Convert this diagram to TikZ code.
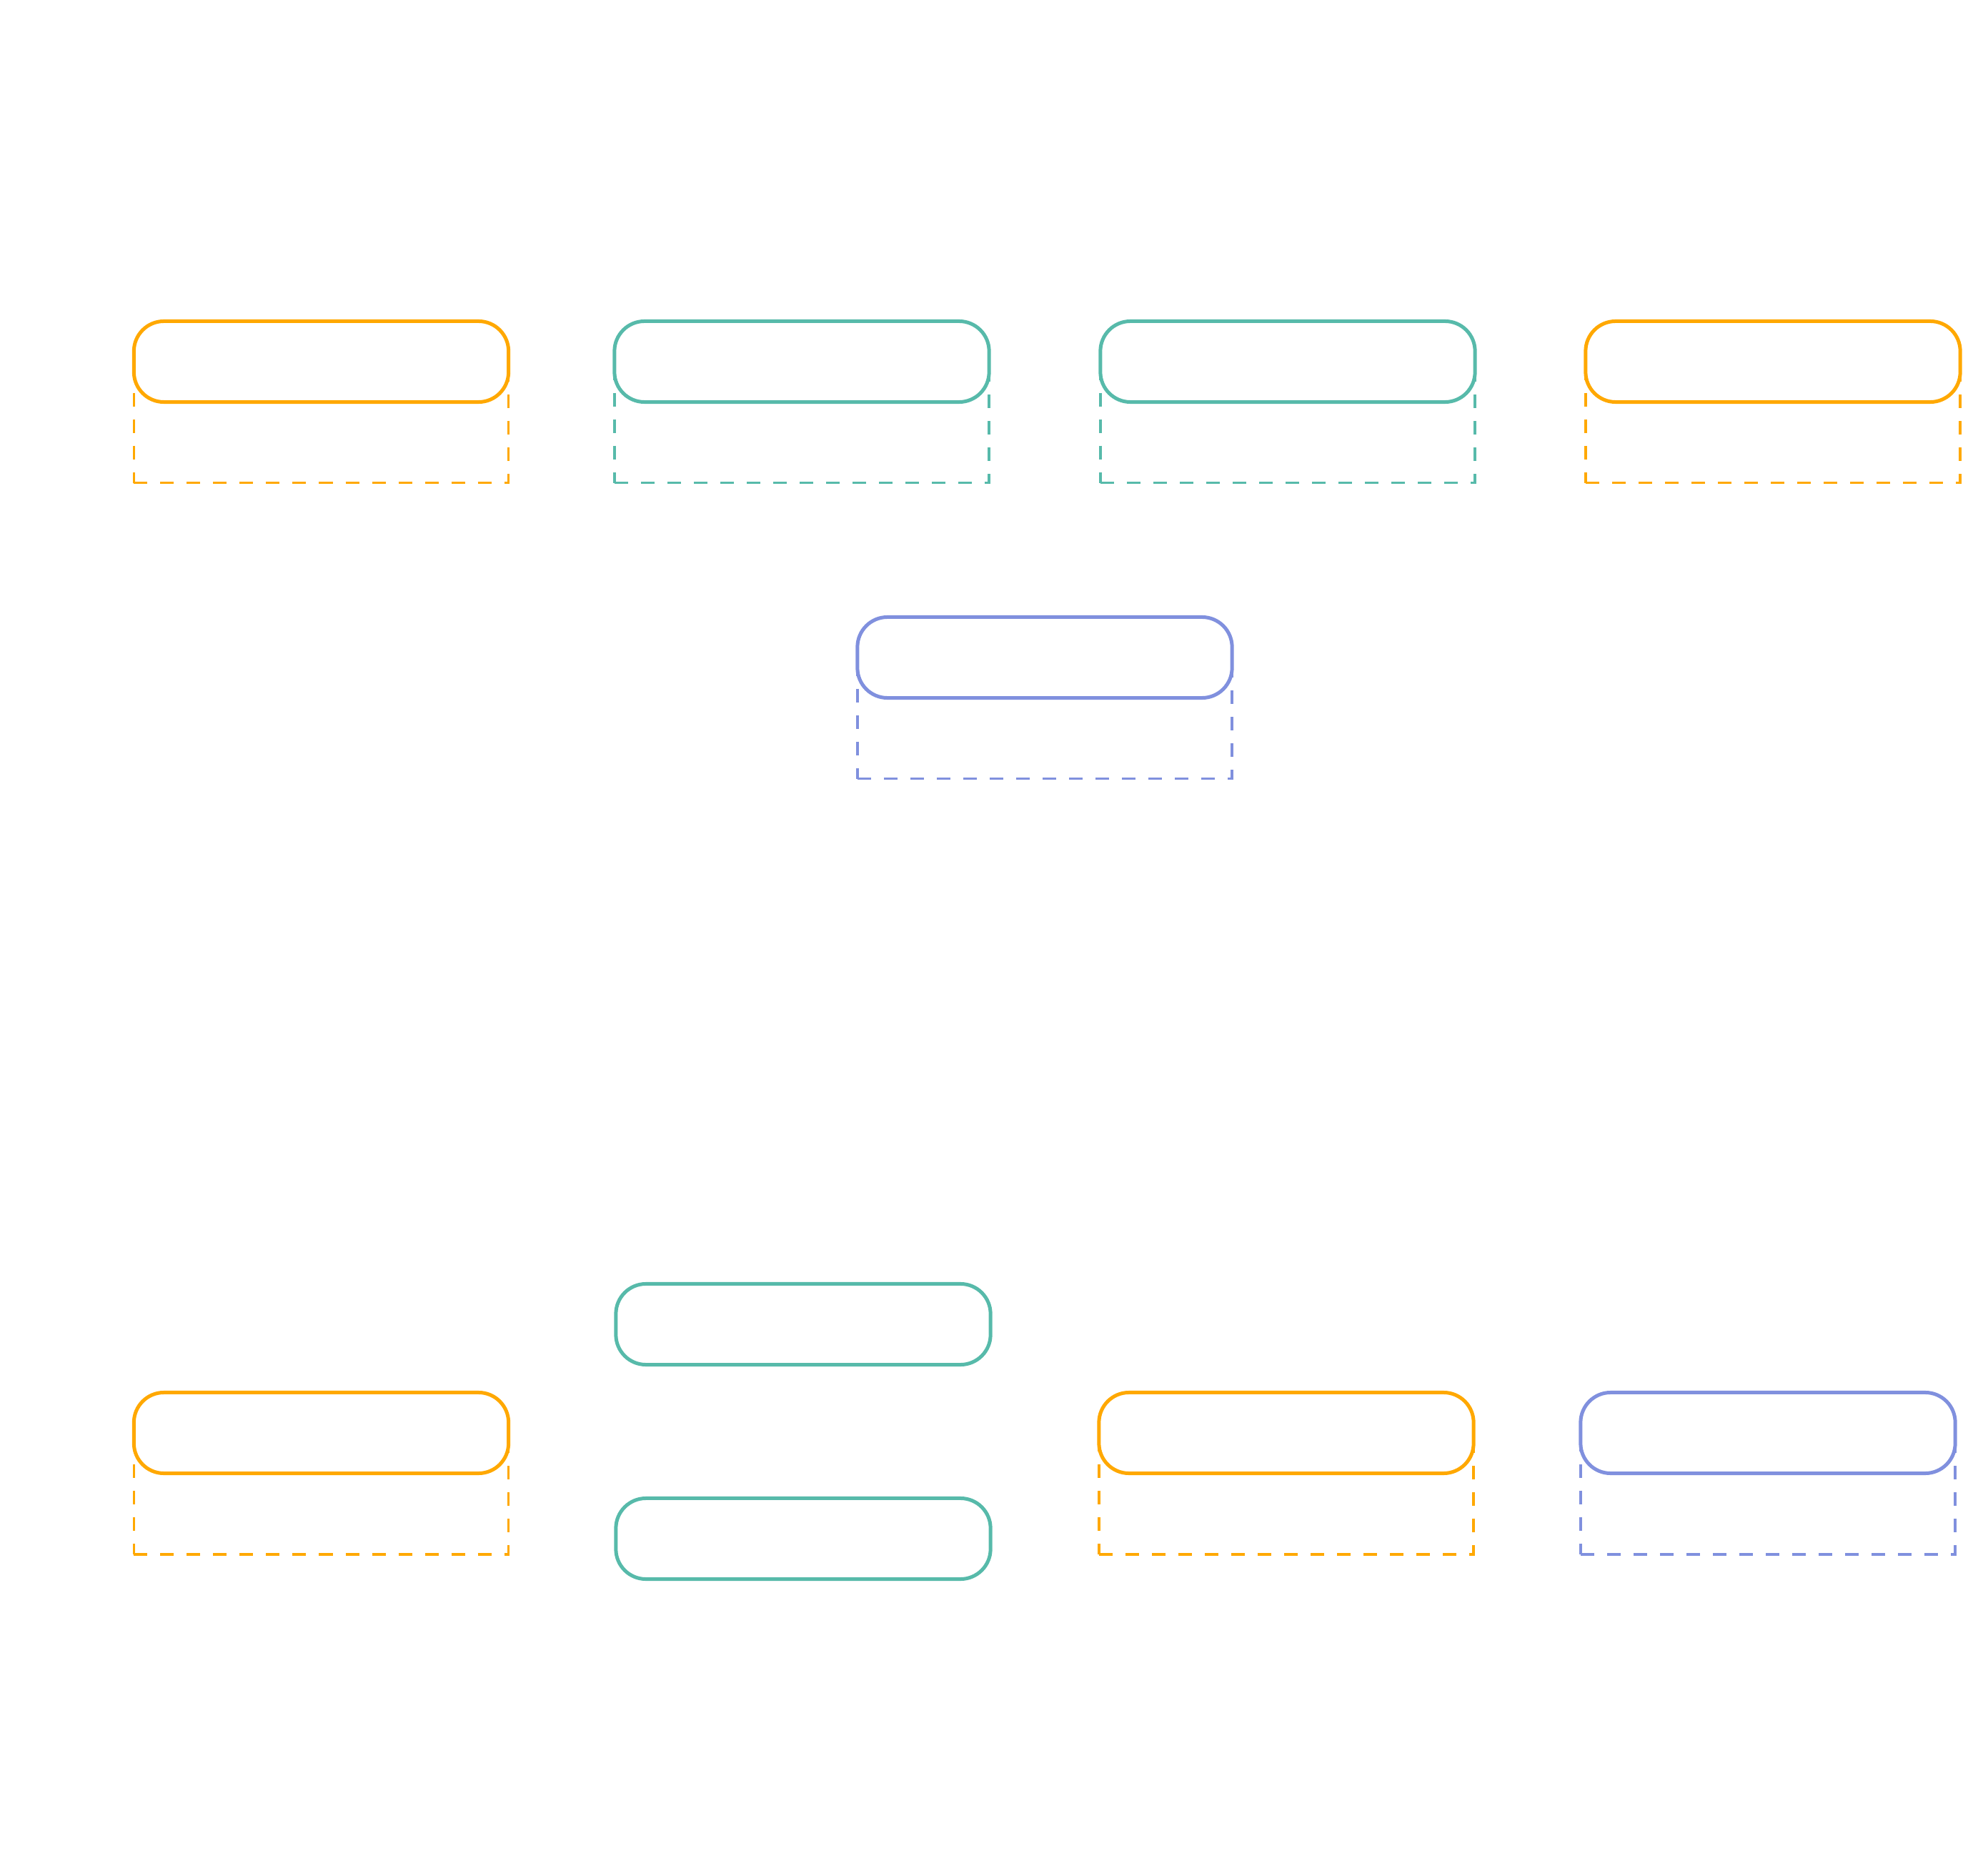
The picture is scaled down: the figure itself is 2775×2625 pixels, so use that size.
\documentclass[tikz,border=0pt]{standalone}
\usetikzlibrary{positioning}
\definecolor{cOrange}{RGB}{255,168,0}
\definecolor{cTeal}{RGB}{87,186,170}
\definecolor{cBlue}{RGB}{128,144,222}
\tikzset{
  solidbox/.style={draw=#1, fill=white, line width=0.05cm, rounded corners=0.42cm,
    minimum width=5.24cm, minimum height=1.13cm, inner sep=0pt},
  dashbox/.style={draw=#1, line width=0.034cm, dash pattern=on 0.19cm off 0.18cm,
    minimum width=5.24cm, minimum height=1.68cm, inner sep=0pt, anchor=north},
}
\begin{document}
\begin{tikzpicture}[x=0.01cm,y=-0.01cm]
\useasboundingbox (0,0) rectangle (2775,2625);
% dashed frames (drawn first, hidden under the rounded boxes)
\node[dashbox=cOrange] (Ad) at (449.5,506) {};
\node[dashbox=cTeal]   (Bd) at (1122,506) {};
\node[dashbox=cTeal]   (Cd) at (1802,506) {};
\node[dashbox=cOrange] (Dd) at (2481,506) {};
\node[dashbox=cBlue]   (Ed) at (1462,920) {};
\node[dashbox=cOrange] (Hd) at (449.5,2005) {};
\node[dashbox=cOrange] (Id) at (1800,2005) {};
\node[dashbox=cBlue]   (Jd) at (2474,2005) {};
% rounded boxes
\node[solidbox=cOrange] (A) at (449.5,506) {};
\node[solidbox=cTeal]   (B) at (1122,506) {};
\node[solidbox=cTeal]   (C) at (1802,506) {};
\node[solidbox=cOrange] (D) at (2481,506) {};
\node[solidbox=cBlue]   (E) at (1462,920) {};
\node[solidbox=cTeal]   (F) at (1124,1853) {};
\node[solidbox=cTeal]   (G) at (1124,2153) {};
\node[solidbox=cOrange] (H) at (449.5,2005) {};
\node[solidbox=cOrange] (I) at (1800,2005) {};
\node[solidbox=cBlue]   (J) at (2474,2005) {};
\end{tikzpicture}
\end{document}
